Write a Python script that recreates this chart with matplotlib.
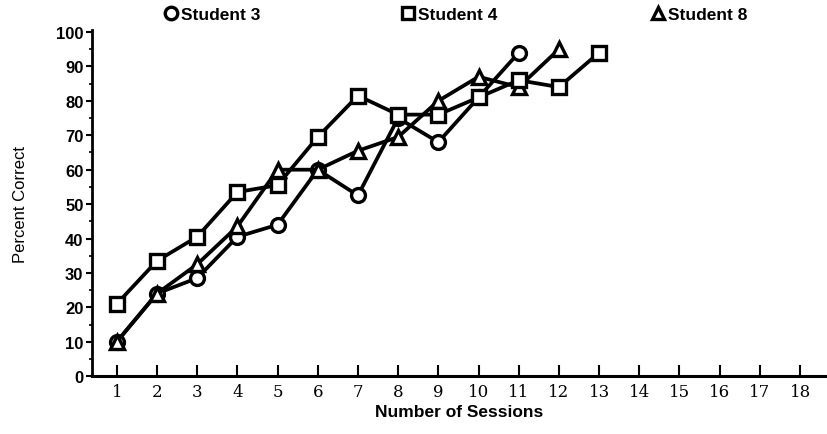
import matplotlib
matplotlib.use("Agg")
import matplotlib.pyplot as plt
from matplotlib.lines import Line2D

sessions = list(range(1, 19))
s3_x = [1, 2, 3, 4, 5, 6, 7, 8, 9, 10, 11]
s3_y = [10, 24, 28.5, 40.5, 44, 60, 52.5, 75, 68, 81, 94]
s4_x = [1, 2, 3, 4, 5, 6, 7, 8, 9, 10, 11, 12, 13]
s4_y = [21, 33.5, 40.5, 53.5, 55.5, 69.5, 81.5, 76, 76, 81, 86, 84, 94]
s8_x = [1, 2, 3, 4, 5, 6, 7, 8, 9, 10, 11, 12]
s8_y = [10, 24, 32.5, 43.5, 60, 60, 65.5, 69.5, 80, 87, 84, 95]
y_ticks = [0, 10, 20, 30, 40, 50, 60, 70, 80, 90, 100]

fig = plt.figure(figsize=(8.27, 4.35), dpi=100)
ax = fig.add_axes([0.111, 0.133, 0.889, 0.795])

lw = 2.7
mk = dict(markersize=10, markerfacecolor="white", markeredgecolor="black", markeredgewidth=2.4)
ax.plot(s3_x, s3_y, color="black", lw=lw, marker="o", zorder=3, **mk)
ax.plot(s8_x, s8_y, color="black", lw=lw, marker="^", zorder=4, **mk)
ax.plot(s4_x, s4_y, color="black", lw=lw, marker="s", zorder=5, **mk)

ax.set_xlim(0.378, 18.67)
ax.set_ylim(0, 100.5)
for s in ["top", "right"]:
    ax.spines[s].set_visible(False)
ax.spines["left"].set_linewidth(2)
ax.spines["bottom"].set_linewidth(2.2)

ax.set_xticks(sessions)
ax.set_xticklabels([str(s) for s in sessions], fontfamily="DejaVu Serif", fontsize=12)
ax.tick_params(axis="x", direction="in", length=8, width=1.5, pad=5)
ax.set_yticks(y_ticks)
ax.set_yticklabels([str(v) for v in y_ticks], fontfamily="Liberation Sans",
                   fontweight="bold", fontsize=12)
ax.set_yticks(list(range(5, 100, 10)), minor=True)
ax.tick_params(axis="y", which="major", direction="out", length=4, width=1.5, pad=2)
ax.tick_params(axis="y", which="minor", direction="out", length=2, width=1.2)

ax.set_xlabel("Number of Sessions", fontfamily="Liberation Sans", fontweight="bold",
              fontsize=12.5, labelpad=3)
ax.set_ylabel("Percent Correct", fontfamily="Liberation Sans", fontsize=12, labelpad=20)

labels = ["Student 3", "Student 4", "Student 8"]
legend_markers = ["o", "s", "^"]
legend_x = [0.199, 0.486, 0.788]
for lab, m, xp in zip(labels, legend_markers, legend_x):
    h = Line2D([], [], ls="none", marker=m, markersize=9, markerfacecolor="white",
               markeredgecolor="black", markeredgewidth=2.4)
    fig.legend([h], [lab], loc="center left", bbox_to_anchor=(xp, 0.965),
               frameon=False, handlelength=0.7, handletextpad=0.25, borderpad=0,
               borderaxespad=0,
               prop=dict(family="Liberation Sans", weight="bold", size=12.5))

fig.savefig("out.png", dpi=100)
